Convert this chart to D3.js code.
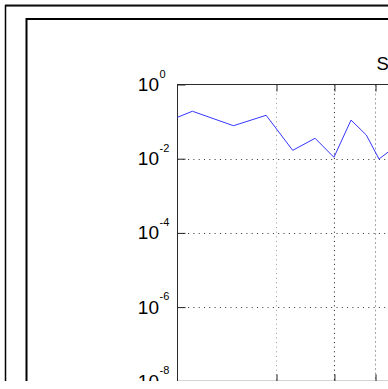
<!DOCTYPE html>
<html>
<head>
<meta charset="utf-8">
<script src="https://d3js.org/d3.v7.min.js"></script>
<style>
  body { margin: 0; background: #fff; }
  svg { display: block; }
  text { font-family: "Liberation Sans", Arial, sans-serif; fill: #000; }
</style>
</head>
<body>
<script>
// values (x on a log axis, y on a log axis)
const xValues = [1, 1.11, 1.48, 1.86, 2.24, 2.62, 2.99, 3.37, 3.75, 4.1, 4.5];
const yValues = [0.131, 0.19, 0.0775, 0.148, 0.0168, 0.0355, 0.0109, 0.11, 0.0435, 0.0098, 0.0185];
const yTicks = [1, 1e-2, 1e-4, 1e-6, 1e-8];
const yGrid = [1e-2, 1e-4, 1e-6];
const xTicks = [2, 3, 4, 5];
const title = "S";

const width = 388, height = 389;
const plotLeft = 177.5, plotTop = 84.5;

const svg = d3.select("body").append("svg")
    .attr("width", width)
    .attr("height", height);

svg.append("defs").append("clipPath").attr("id", "crop")
  .append("rect").attr("width", width).attr("height", 381);

const fig = svg.append("g").attr("clip-path", "url(#crop)");

// figure borders
fig.append("line").attr("x1", 5).attr("x2", width).attr("y1", 4.5).attr("y2", 4.5)
    .attr("stroke", "#888").attr("stroke-width", 1);
fig.append("rect").attr("x", 5.5).attr("y", 5.8).attr("width", 600).attr("height", 600)
    .attr("fill", "none").attr("stroke", "#000").attr("stroke-width", 1.5);
fig.append("rect").attr("x", 26.5).attr("y", 19).attr("width", 600).attr("height", 600)
    .attr("fill", "none").attr("stroke", "#000").attr("stroke-width", 2);

const x = d3.scaleLog().domain([1, 10]).range([plotLeft, plotLeft + 328.9]);
const y = d3.scaleLog().domain([1e-8, 1]).range([plotTop + 296.8, plotTop]);
const plotRight = x.range()[1], plotBottom = y.range()[0];

const plot = fig.append("g");

// grid
const gridColors = ["#9a9a9a", "#111", "#a5a5a5", "#999"];
plot.selectAll(".vgrid").data(xTicks).enter().append("line")
    .attr("x1", d => x(d)).attr("x2", d => x(d))
    .attr("y1", plotTop).attr("y2", plotBottom)
    .attr("stroke", (d, i) => gridColors[i])
    .attr("stroke-dasharray", (d, i) => i === 2 ? "2,2.5" : "1,3.6");

plot.selectAll(".hgrid").data(yGrid).enter().append("line")
    .attr("x1", plotLeft).attr("x2", plotRight)
    .attr("y1", d => Math.round(y(d)) + 0.5).attr("y2", d => Math.round(y(d)) + 0.5)
    .attr("stroke", "#333")
    .attr("stroke-dasharray", "1,4.3");

// axes (ticks point inward, labels drawn separately)
const yAxis = d3.axisRight(y).tickValues(yTicks).tickSize(8).tickFormat("");
plot.append("g").attr("transform", `translate(${plotLeft},0)`).call(yAxis)
    .call(g => g.select(".domain").remove())
    .selectAll("line").attr("stroke", "#222");

const xTop = d3.axisBottom(x).tickValues(xTicks).tickSize(7).tickFormat("");
plot.append("g").attr("transform", `translate(0,${plotTop})`).call(xTop)
    .call(g => g.select(".domain").remove())
    .selectAll("line").attr("stroke", "#222");

const xBottom = d3.axisTop(x).tickValues(xTicks).tickSize(7).tickFormat("");
plot.append("g").attr("transform", `translate(0,${plotBottom})`).call(xBottom)
    .call(g => g.select(".domain").remove())
    .selectAll("line").attr("stroke", "#222");

// axes box
plot.append("rect").attr("x", plotLeft).attr("y", plotTop)
    .attr("width", plotRight - plotLeft).attr("height", plotBottom - plotTop)
    .attr("fill", "none").attr("stroke", "#2a2a2a").attr("stroke-width", 1);

// y tick labels as 10 with superscript
const labels = plot.selectAll(".ylab").data(yTicks).enter().append("g")
    .attr("transform", d => `translate(${plotLeft - 18.5},${y(d)})`);
labels.append("text")
    .attr("text-anchor", "end")
    .attr("y", 6.5)
    .style("font-size", "19px")
    .text("10");
labels.append("text")
    .attr("x", 0.5)
    .attr("y", -7)
    .style("font-size", "11px")
    .text(d => String(Math.round(Math.log10(d))));

// data line
const line = d3.line().x(d => x(d[0])).y(d => y(d[1]));
plot.append("path")
    .datum(xValues.map((v, i) => [v, yValues[i]]))
    .attr("fill", "none")
    .attr("stroke", "#3636ff")
    .attr("stroke-width", 1)
    .attr("d", line);

// title (centered far to the right, only its start is in view)
fig.append("text")
    .attr("x", 376.5).attr("y", 70)
    .style("font-size", "18.5px")
    .text(title);
</script>
</body>
</html>
